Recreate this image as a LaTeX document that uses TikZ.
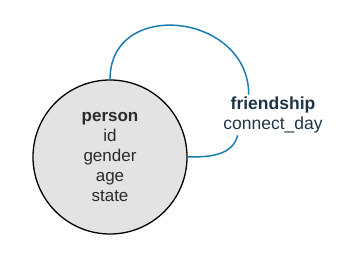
\documentclass[tikz,border=0pt]{standalone}
\usepackage{fontspec}
\setmainfont{Liberation Sans}
\usetikzlibrary{positioning}
\definecolor{CLink}{HTML}{1A7DB3}
\definecolor{CNavy}{HTML}{1E3446}
\definecolor{CText}{HTML}{2B2B2B}
\definecolor{CFill}{HTML}{E3E3E3}

\tikzset{
    entity/.style={circle, draw=black, line width=1.3pt, fill=CFill, minimum size=154pt,
        inner sep=0pt, align=center, text=CText, font=\fontsize{17}{20}\selectfont},
    relation/.style={align=center, text=CNavy, inner sep=2pt,
        font=\fontsize{17.5}{20}\selectfont},
    link/.style={CLink, line width=1.5pt}
}

\begin{document}
\begin{tikzpicture}[x=1pt, y=1pt]
    \useasboundingbox (0,0) rectangle (347,252);

    % Entity and its attributes
    \node[entity] (person) at (110,95) {\textbf{person}\\id\\gender\\age\\state};

    % Self relationship label
    \node[relation] (friendship) at (273,137) {\textbf{friendship}\\connect\_day};

    % Loop from the entity back to itself through the label
    \draw[link] (person.north) to[out=90, in=90, looseness=1.5] (friendship.140);
    \draw[link] (friendship.210) to[out=-105, in=0] (person.east);
\end{tikzpicture}
\end{document}
